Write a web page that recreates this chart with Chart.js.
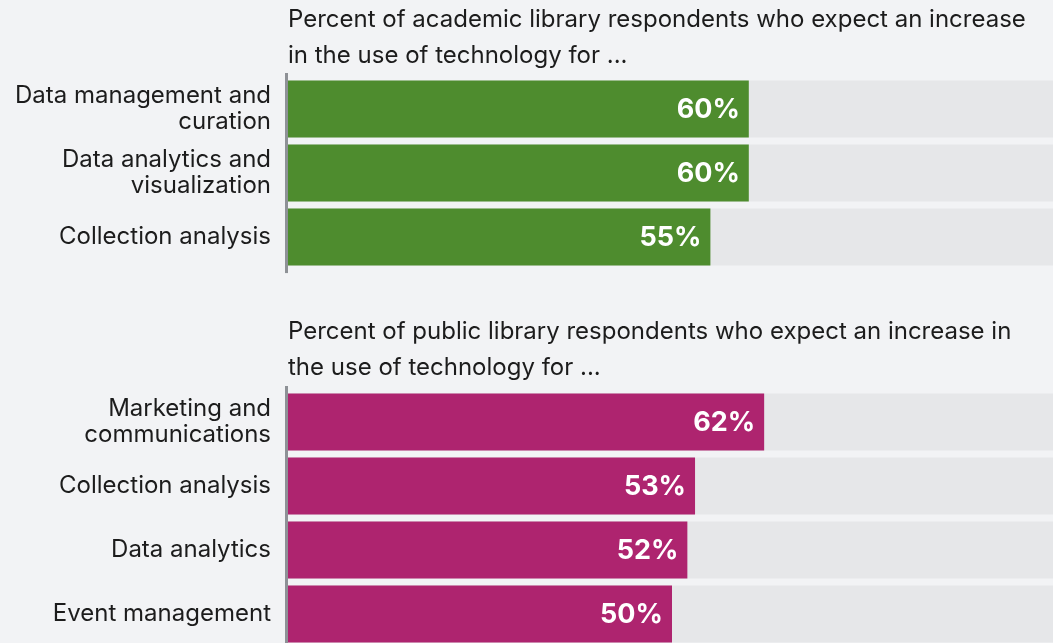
<!DOCTYPE html>
<html>
<head>
<meta charset="utf-8">
<script src="https://cdn.jsdelivr.net/npm/chart.js@4.4.1/dist/chart.umd.min.js"></script>
<style>
  html, body { margin: 0; padding: 0; background: #f2f3f5; overflow: hidden; }
  #wrap { position: relative; width: 1053px; height: 643px; overflow: hidden; }
  canvas { position: absolute; left: 0; display: block; }
  #graficoAcademico { top: 0; }
  #graficoPublico { top: 290px; }
</style>
</head>
<body>
<div id="wrap">
  <canvas id="graficoAcademico" width="1056" height="312"></canvas>
  <canvas id="graficoPublico" width="1056" height="399"></canvas>
</div>
<script>
// dados
const tituloAcademico = ['Percent of academic library respondents who expect an increase', 'in the use of technology for ...'];
const categoriasAcademico = [['Data management and', 'curation'], ['Data analytics and', 'visualization'], 'Collection analysis'];
const valoresAcademico = [60, 60, 55];

const tituloPublico = ['Percent of public library respondents who expect an increase in', 'the use of technology for ...'];
const categoriasPublico = [['Marketing and', 'communications'], 'Collection analysis', 'Data analytics', 'Event management'];
const valoresPublico = [62, 53, 52, 50];

const FONTE = 'Inter, "Noto Sans", sans-serif';

// desenha titulo, linha do eixo e rotulos de valor
const extras = {
    id: 'extras',
    afterDatasetsDraw(chart, args, opts) {
        const ctx = chart.ctx;
        const area = chart.chartArea;
        ctx.save();
        // titulo
        ctx.fillStyle = '#1c1c1c';
        ctx.font = '24px ' + FONTE;
        ctx.textAlign = 'left';
        ctx.textBaseline = 'middle';
        opts.titulo.forEach((linha, i) => {
            ctx.fillText(linha, area.left, opts.tituloY + i * 36);
        });
        // eixo
        ctx.fillStyle = '#8e9196';
        ctx.fillRect(area.left - 3, area.top - 4, 3, area.bottom - area.top + 8);
        // valores
        const meta = chart.getDatasetMeta(1);
        ctx.fillStyle = '#ffffff';
        ctx.font = 'bold 27px ' + FONTE;
        ctx.textAlign = 'right';
        meta.data.forEach((bar, i) => {
            ctx.fillText(chart.data.datasets[1].data[i] + '%', bar.x - 9, bar.y + 1);
        });
        ctx.restore();
    }
};

function criarGrafico(id, categorias, valores, cor, titulo, tituloY, padTop, padBottom) {
    const ctx = document.getElementById(id).getContext('2d');
    return new Chart(ctx, {
        type: 'bar',
        data: {
            labels: categorias,
            datasets: [
                {
                    data: categorias.map(() => 100),
                    backgroundColor: '#e6e7e9',
                    grouped: false,
                    order: 2,
                    categoryPercentage: 57 / 64,
                    barPercentage: 1
                },
                {
                    data: valores,
                    backgroundColor: cor,
                    grouped: false,
                    order: 1,
                    categoryPercentage: 57 / 64,
                    barPercentage: 1
                }
            ]
        },
        options: {
            indexAxis: 'y',
            responsive: false,
            animation: false,
            devicePixelRatio: 1,
            layout: { padding: { top: padTop, bottom: padBottom, left: 0, right: 0 } },
            scales: {
                x: { display: false, min: 0, max: 100 },
                y: {
                    grid: { display: false, drawTicks: false },
                    border: { display: false },
                    ticks: {
                        color: '#1c1c1c',
                        padding: 17,
                        font: { family: FONTE, size: 24, lineHeight: 1.08 }
                    },
                    afterFit(scale) { scale.width = 288; }
                }
            },
            plugins: {
                legend: { display: false },
                tooltip: { enabled: false },
                extras: { titulo: titulo, tituloY: tituloY }
            }
        },
        plugins: [extras]
    });
}

criarGrafico('graficoAcademico', categoriasAcademico, valoresAcademico, '#4e8c2e', tituloAcademico, 20, 77, 0);
criarGrafico('graficoPublico', categoriasPublico, valoresPublico, '#ae246f', tituloPublico, 42, 100, 0);
</script>
</body>
</html>
